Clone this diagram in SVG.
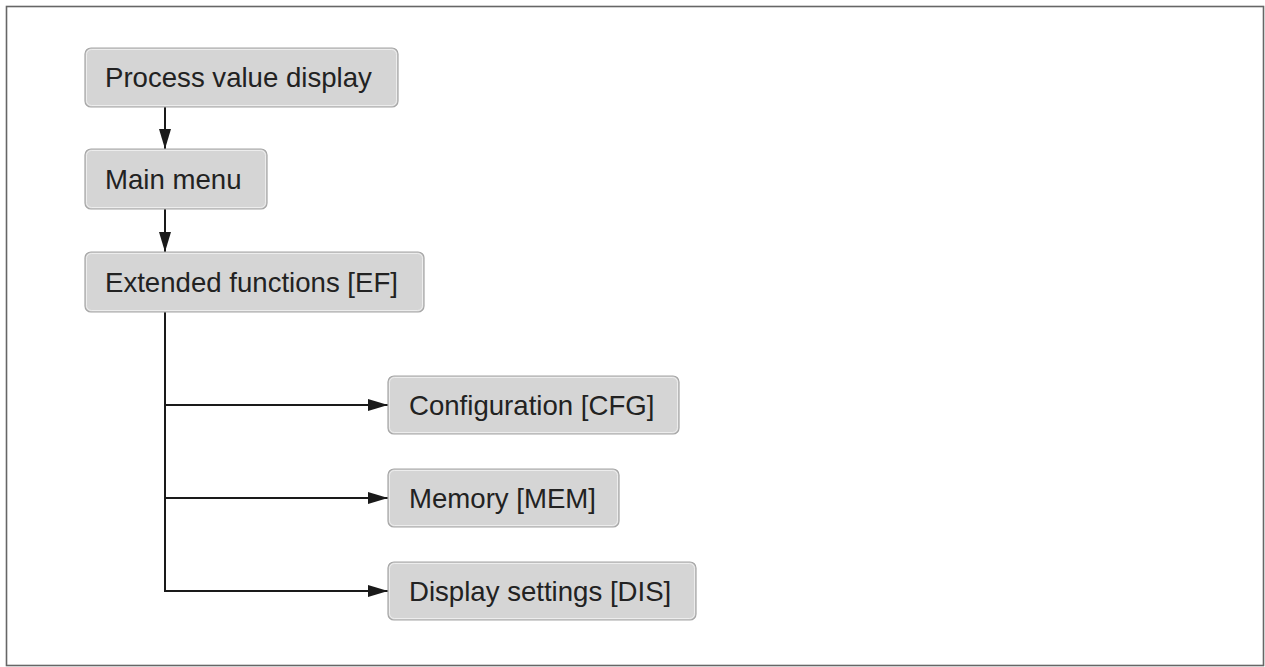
<svg xmlns="http://www.w3.org/2000/svg" width="1265" height="667" viewBox="0 0 1265 667">
<style>
.box{fill:#d5d5d5;stroke:#a6a6a6;stroke-width:1.2}
.inner{fill:none;stroke:#f2f2f2;stroke-width:0.8}
.lbl{font-family:"Liberation Sans",Arial,sans-serif;font-size:27.6px;fill:#222}
.ln{fill:none;stroke:#1a1a1a;stroke-width:2}
</style>
<defs>
<marker id="ah" viewBox="0 0 20 12" refX="20" refY="6" markerWidth="20" markerHeight="12" markerUnits="userSpaceOnUse" orient="auto">
<path d="M0,0 L20,6 L0,12 Z" fill="#1a1a1a"/>
</marker>
</defs>
<rect x="6.5" y="6.5" width="1257" height="659" fill="#fff" stroke="#666" stroke-width="1.6"/>
<g id="connectors">
<line class="ln" x1="165" y1="107" x2="165" y2="149" marker-end="url(#ah)"/>
<line class="ln" x1="165" y1="209" x2="165" y2="252" marker-end="url(#ah)"/>
<polyline class="ln" points="165,312 165,591"/>
<line class="ln" x1="164" y1="405" x2="388" y2="405" marker-end="url(#ah)"/>
<line class="ln" x1="164" y1="498" x2="388" y2="498" marker-end="url(#ah)"/>
<line class="ln" x1="164" y1="591" x2="388" y2="591" marker-end="url(#ah)"/>
</g>
<g id="node-process">
<rect class="box" x="85" y="48" width="313" height="59" rx="6"/>
<rect class="inner" x="86.5" y="49.5" width="310" height="56" rx="5"/>
<text class="lbl" x="105" y="87">Process value display</text>
</g>
<g id="node-main">
<rect class="box" x="85" y="149" width="182" height="60" rx="6"/>
<rect class="inner" x="86.5" y="150.5" width="179" height="57" rx="5"/>
<text class="lbl" x="105" y="189">Main menu</text>
</g>
<g id="node-ef">
<rect class="box" x="85" y="252" width="339" height="60" rx="6"/>
<rect class="inner" x="86.5" y="253.5" width="336" height="57" rx="5"/>
<text class="lbl" x="105" y="292">Extended functions [EF]</text>
</g>
<g id="node-cfg">
<rect class="box" x="388" y="376" width="291" height="58" rx="6"/>
<rect class="inner" x="389.5" y="377.5" width="288" height="55" rx="5"/>
<text class="lbl" x="409" y="415">Configuration [CFG]</text>
</g>
<g id="node-mem">
<rect class="box" x="388" y="469" width="231" height="58" rx="6"/>
<rect class="inner" x="389.5" y="470.5" width="228" height="55" rx="5"/>
<text class="lbl" x="409" y="508">Memory [MEM]</text>
</g>
<g id="node-dis">
<rect class="box" x="388" y="562" width="308" height="58" rx="6"/>
<rect class="inner" x="389.5" y="563.5" width="305" height="55" rx="5"/>
<text class="lbl" x="409" y="601">Display settings [DIS]</text>
</g>
</svg>
